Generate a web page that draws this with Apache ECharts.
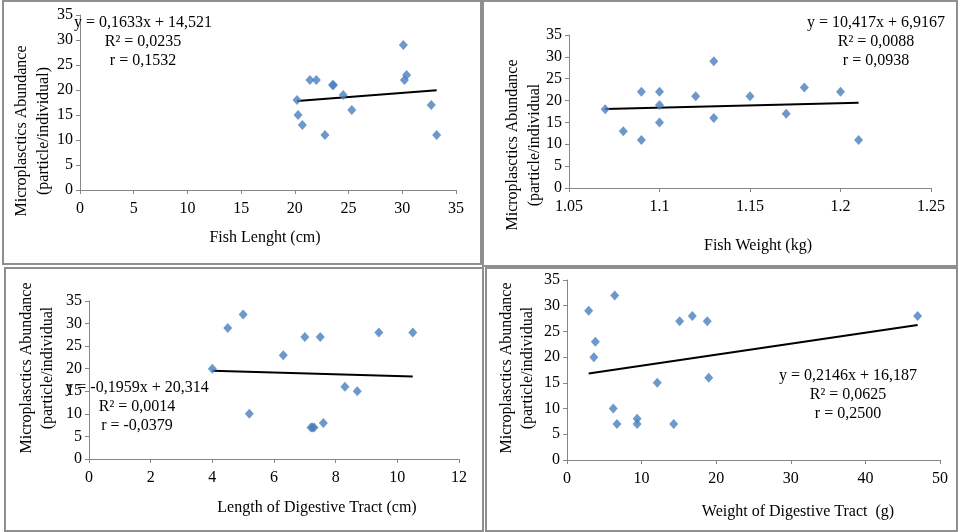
<!DOCTYPE html>
<html>
<head>
<meta charset="utf-8">
<script src="https://cdn.jsdelivr.net/npm/echarts@6/dist/echarts.min.js"></script>
<style>
  html, body { margin: 0; padding: 0; background: #fff; }
  #chart { width: 958px; height: 532px; }
</style>
</head>
<body>
<div id="chart"></div>
<script>
// panel 1 - fish length
var lenX = [20.2, 20.3, 20.7, 21.4, 22.0, 22.8, 23.5, 23.6, 24.5, 25.3, 30.1, 30.2, 30.4, 32.7, 33.2];
var lenY = [18, 15, 13, 22, 22, 11, 21, 21, 19, 16, 29, 22, 23, 17, 11];
var lenTrend = [[20.2, 17.82], [33.2, 19.94]];

// panel 2 - fish weight
var wtX = [1.07, 1.08, 1.09, 1.09, 1.10, 1.10, 1.10, 1.12, 1.13, 1.13, 1.15, 1.17, 1.18, 1.20, 1.21];
var wtY = [18, 13, 22, 11, 22, 19, 15, 21, 29, 16, 21, 17, 23, 22, 11];
var wtTrend = [[1.07, 18.06], [1.21, 19.52]];

// panel 3 - digestive tract length
var dtlX = [4.0, 4.5, 5.0, 5.2, 6.3, 7.0, 7.2, 7.25, 7.3, 7.5, 7.6, 8.3, 8.7, 9.4, 10.5];
var dtlY = [20, 29, 32, 10, 23, 27, 7, 7, 7, 27, 8, 16, 15, 28, 28];
var dtlTrend = [[4.0, 19.53], [10.5, 18.26]];

// panel 4 - digestive tract weight
var dtwX = [2.9, 3.6, 3.8, 6.2, 6.4, 6.7, 9.4, 9.4, 12.1, 14.3, 15.1, 16.8, 18.8, 19.0, 47.0];
var dtwY = [29, 20, 23, 10, 32, 7, 8, 7, 15, 7, 27, 28, 27, 16, 28];
var dtwTrend = [[2.9, 16.81], [47.0, 26.27]];

var xTitles = ['Fish Lenght (cm)', 'Fish Weight (kg)', 'Length of Digestive Tract (cm)', 'Weight of Digestive Tract  (g)'];
var yTitle1 = 'Microplasctics Abundance';
var yTitle2 = ['(particle/individual)', '(particle/individual', '(particle/individual', '(particle/individual'];
var equations = [
  ['y = 0,1633x + 14,521', 'R² = 0,0235', 'r = 0,1532'],
  ['y = 10,417x + 6,9167', 'R² = 0,0088', 'r = 0,0938'],
  ['y = -0,1959x + 20,314', 'R² = 0,0014', 'r = -0,0379'],
  ['y = 0,2146x + 16,187', 'R² = 0,0625', 'r = 0,2500']
];

var font = 'Liberation Serif';
var axisGray = '#868686';

function zip(xs, ys) {
  return xs.map(function (x, i) { return [x, ys[i]]; });
}

var grids = [
  { left: 80, top: 15, width: 376, height: 175 },
  { left: 569, top: 35, width: 362, height: 153 },
  { left: 89, top: 301, width: 370, height: 158 },
  { left: 567, top: 280, width: 373, height: 180 }
];
var xRanges = [[0, 35, 5], [1.05, 1.25, 0.05], [0, 12, 2], [0, 50, 10]];
var pts = [zip(lenX, lenY), zip(wtX, wtY), zip(dtlX, dtlY), zip(dtwX, dtwY)];
var trends = [lenTrend, wtTrend, dtlTrend, dtwTrend];

var xAxes = [], yAxes = [], series = [];
for (var i = 0; i < 4; i++) {
  xAxes.push({
    type: 'value', gridIndex: i,
    min: xRanges[i][0], max: xRanges[i][1], interval: xRanges[i][2],
    axisLine: { show: true, onZero: false, lineStyle: { color: axisGray, width: 1 } },
    axisTick: { show: true, inside: false, length: 4, lineStyle: { color: axisGray } },
    axisLabel: {
      color: '#000', fontFamily: font, fontSize: 16, margin: 11,
      formatter: function (v) { return String(Math.round(v * 100) / 100); }
    },
    splitLine: { show: false }
  });
  yAxes.push({
    type: 'value', gridIndex: i, min: 0, max: 35, interval: 5,
    axisLine: { show: true, lineStyle: { color: axisGray, width: 1 } },
    axisTick: { show: true, inside: false, length: 4, lineStyle: { color: axisGray } },
    axisLabel: { color: '#000', fontFamily: font, fontSize: 16, margin: 7 },
    splitLine: { show: false }
  });
  series.push({
    type: 'line', xAxisIndex: i, yAxisIndex: i, data: trends[i],
    symbol: 'none', lineStyle: { color: '#000', width: 2 }, z: 2, silent: true
  });
  series.push({
    type: 'scatter', xAxisIndex: i, yAxisIndex: i, data: pts[i],
    symbol: 'diamond', symbolSize: [9, 10],
    itemStyle: { color: '#4A7EBB' }, z: 3
  });
}

var graphics = [];
// panel frames
var frames = [[3, 1, 478, 263], [483, 1, 474, 265], [5, 268, 478, 263], [486, 268, 471, 263]];
frames.forEach(function (f) {
  graphics.push({
    type: 'rect', shape: { x: f[0], y: f[1], width: f[2], height: f[3] },
    style: { fill: null, stroke: '#8f8f8f', lineWidth: 2 }, z: 0
  });
});
// x axis titles
var xTitlePos = [[265, 238], [758, 246], [317, 508], [798, 512]];
// y axis titles (two rotated lines)
var yTitlePos = [[22, 44, 131], [513, 535, 145], [27, 48, 368], [507, 528, 368]];
// equation blocks
var eqPos = [[143, 42], [876, 42], [137, 407], [848, 395]];
for (var k = 0; k < 4; k++) {
  graphics.push({
    type: 'text', x: xTitlePos[k][0], y: xTitlePos[k][1],
    style: { text: xTitles[k], fontFamily: font, fontSize: 16, fill: '#000', align: 'center', verticalAlign: 'middle' }
  });
  graphics.push({
    type: 'text', x: yTitlePos[k][0], y: yTitlePos[k][2], rotation: Math.PI / 2,
    style: { text: yTitle1, fontFamily: font, fontSize: 16, fill: '#000', align: 'center', verticalAlign: 'middle' }
  });
  graphics.push({
    type: 'text', x: yTitlePos[k][1], y: yTitlePos[k][2], rotation: Math.PI / 2,
    style: { text: yTitle2[k], fontFamily: font, fontSize: 16, fill: '#000', align: 'center', verticalAlign: 'middle' }
  });
  graphics.push({
    type: 'text', x: eqPos[k][0], y: eqPos[k][1], z: 10,
    style: { text: equations[k].join('\n'), fontFamily: font, fontSize: 16, lineHeight: 19, fill: '#000', align: 'center', verticalAlign: 'middle' }
  });
}

var chart = echarts.init(document.getElementById('chart'));
chart.setOption({
  animation: false,
  backgroundColor: '#fff',
  grid: grids,
  xAxis: xAxes,
  yAxis: yAxes,
  series: series,
  graphic: graphics
});
</script>
</body>
</html>
